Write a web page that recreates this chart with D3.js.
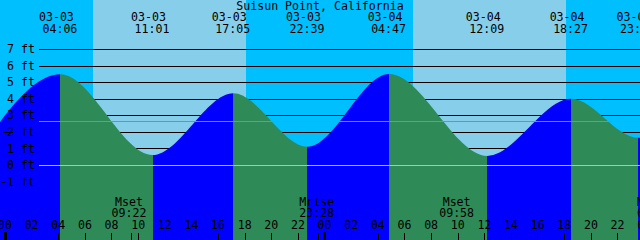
<!DOCTYPE html>
<html>
<head>
<meta charset="utf-8">
<script src="https://cdn.jsdelivr.net/npm/d3@7"></script>
<style>
  html, body { margin: 0; padding: 0; background: #fff; }
  svg { display: block; }
  text { font-family: "DejaVu Sans Mono", monospace; font-size: 11.6px; fill: #000; }
</style>
</head>
<body>
<svg id="chart"></svg>
<script>
// tide events, hours counted from 03-03 00:00
const tideHours   = [-2.2, 4.1, 11.017, 17.083, 22.65, 28.783, 36.15, 42.45, 47.48, 53.9];
const tideHeights = [0.6, 5.47, 0.6, 4.33, 1.1, 5.49, 0.55, 4.0, 1.65, 5.4];
const tideDates   = ['03-02', '03-03', '03-03', '03-03', '03-03', '03-04', '03-04', '03-04', '03-04', '03-05'];
const tideTimes   = ['21:48', '04:06', '11:01', '17:05', '22:39', '04:47', '12:09', '18:27', '23:29', '05:54'];

// daylight, hours
const dayStart = [6.55, 30.55];
const dayEnd   = [18.04, 42.07];

// moon events
const moonHours = [9.367, 23.467, 33.967, 48.83];
const moonNames = ['Mset', 'Mrise', 'Mset', 'Mrise'];
const moonTimes = ['09:22', '23:28', '09:58', '00:50'];

const levelTicks = [-1, 0, 1, 2, 3, 4, 5, 6, 7];
const hourTicks  = [0, 2, 4, 6, 8, 10, 12, 14, 16, 18, 20, 22, 24, 26, 28, 30, 32, 34, 36, 38, 40, 42, 44, 46, 48];
const meanLevel  = 2.68;
const title = 'Suisun Point, California';

const width = 640;
const height = 240;
const gridLeft = 39;

const colors = {
    night: '#00bfff',
    day: '#87ceeb',
    flood: '#0000ff',
    ebb: '#2e8b57',
    datum: '#8ccfd6',
    mean: '#5f9ea0'
};

const x = d3.scaleLinear().domain([0, 48]).range([5.8, 645]);
const y = d3.scaleLinear().domain([-1, 7]).range([181.6, 49]);

const svg = d3.select('#chart')
    .attr('width', width)
    .attr('height', height);

// sky
svg.append('rect')
    .attr('width', width)
    .attr('height', height)
    .attr('fill', colors.night);

svg.selectAll('rect.day')
    .data(dayStart)
    .join('rect')
    .attr('class', 'day')
    .attr('x', (d, i) => Math.round(x(d)))
    .attr('width', (d, i) => Math.round(x(dayEnd[i])) - Math.round(x(d)))
    .attr('y', 0)
    .attr('height', height)
    .attr('fill', colors.day);

// level grid, under the water
const crisp = v => Math.round(v) + 0.5;

svg.selectAll('line.grid')
    .data(levelTicks)
    .join('line')
    .attr('class', 'grid')
    .attr('x1', gridLeft)
    .attr('x2', width)
    .attr('y1', d => crisp(y(d)))
    .attr('y2', d => crisp(y(d)))
    .attr('stroke', '#000')
    .attr('shape-rendering', 'crispEdges');

// water
const tide = tideHours.map((h, i) => ({ h: h, v: tideHeights[i] }));

const area = d3.area()
    .x(d => x(d.h))
    .y0(height)
    .y1(d => y(d.v))
    .curve(d3.curveMonotoneX);

svg.append('clipPath')
    .attr('id', 'water')
    .append('path')
    .attr('d', area(tide));

svg.append('g')
    .attr('clip-path', 'url(#water)')
    .selectAll('rect')
    .data(tide.slice(0, -1))
    .join('rect')
    .attr('x', d => x(d.h))
    .attr('width', (d, i) => x(tide[i + 1].h) - x(d.h))
    .attr('y', 0)
    .attr('height', height)
    .attr('fill', (d, i) => tide[i + 1].v > d.v ? colors.flood : colors.ebb)
    .attr('shape-rendering', 'crispEdges');

// datum and mean lines over the water
svg.append('line')
    .attr('x1', gridLeft).attr('x2', width)
    .attr('y1', crisp(y(0))).attr('y2', crisp(y(0)))
    .attr('stroke', colors.datum)
    .attr('shape-rendering', 'crispEdges');

svg.append('line')
    .attr('x1', gridLeft).attr('x2', width)
    .attr('y1', crisp(y(meanLevel))).attr('y2', crisp(y(meanLevel)))
    .attr('stroke', colors.mean)
    .attr('shape-rendering', 'crispEdges');

// level labels
svg.selectAll('text.level')
    .data(levelTicks)
    .join('text')
    .attr('class', 'level')
    .attr('x', 35)
    .attr('y', d => y(d))
    .attr('dy', '0.36em')
    .attr('text-anchor', 'end')
    .text(d => d + ' ft');

svg.append('line')
    .attr('x1', 3).attr('x2', 13)
    .attr('y1', crisp(y(2))).attr('y2', crisp(y(2)))
    .attr('stroke', '#000')
    .attr('shape-rendering', 'crispEdges');

// header
svg.append('text')
    .attr('x', 320)
    .attr('y', 5.5)
    .attr('dy', '0.36em')
    .attr('text-anchor', 'middle')
    .text(title);

const header = svg.append('g');

header.selectAll('text.date')
    .data(tideHours)
    .join('text')
    .attr('class', 'date')
    .attr('x', d => x(d) - 4)
    .attr('y', 16.5)
    .attr('dy', '0.36em')
    .attr('text-anchor', 'middle')
    .text((d, i) => tideDates[i]);

header.selectAll('text.time')
    .data(tideHours)
    .join('text')
    .attr('class', 'time')
    .attr('x', d => x(d) - 0.5)
    .attr('y', 28.5)
    .attr('dy', '0.36em')
    .attr('text-anchor', 'middle')
    .text((d, i) => tideTimes[i]);

// moon events
svg.selectAll('text.moon')
    .data(moonHours)
    .join('text')
    .attr('class', 'moon')
    .attr('x', d => x(d) - 1.5)
    .attr('y', 201.5)
    .attr('dy', '0.36em')
    .attr('text-anchor', 'middle')
    .text((d, i) => moonNames[i]);

svg.selectAll('text.moontime')
    .data(moonHours)
    .join('text')
    .attr('class', 'moontime')
    .attr('x', d => x(d) - 1.5)
    .attr('y', 213)
    .attr('dy', '0.36em')
    .attr('text-anchor', 'middle')
    .text((d, i) => moonTimes[i]);

svg.selectAll('line.moontick')
    .data(moonHours)
    .join('line')
    .attr('class', 'moontick')
    .attr('x1', d => crisp(x(d)))
    .attr('x2', d => crisp(x(d)))
    .attr('y1', 233)
    .attr('y2', height)
    .attr('stroke', '#000')
    .attr('shape-rendering', 'crispEdges');

// hour axis
svg.selectAll('text.hour')
    .data(hourTicks)
    .join('text')
    .attr('class', 'hour')
    .attr('x', d => x(d) - 0.8)
    .attr('y', 225)
    .attr('dy', '0.36em')
    .attr('text-anchor', 'middle')
    .text(d => d3.format('02')(d % 24));

svg.selectAll('line.hourtick')
    .data(hourTicks.filter(d => d % 24 !== 0))
    .join('line')
    .attr('class', 'hourtick')
    .attr('x1', d => crisp(x(d) - 1))
    .attr('x2', d => crisp(x(d) - 1))
    .attr('y1', 233)
    .attr('y2', height)
    .attr('stroke', '#000')
    .attr('shape-rendering', 'crispEdges');

svg.selectAll('rect.midnight')
    .data(hourTicks.filter(d => d % 24 === 0))
    .join('rect')
    .attr('class', 'midnight')
    .attr('x', d => Math.round(x(d)) - 2)
    .attr('width', 3)
    .attr('y', 232)
    .attr('height', 8)
    .attr('fill', '#000');
</script>
</body>
</html>
